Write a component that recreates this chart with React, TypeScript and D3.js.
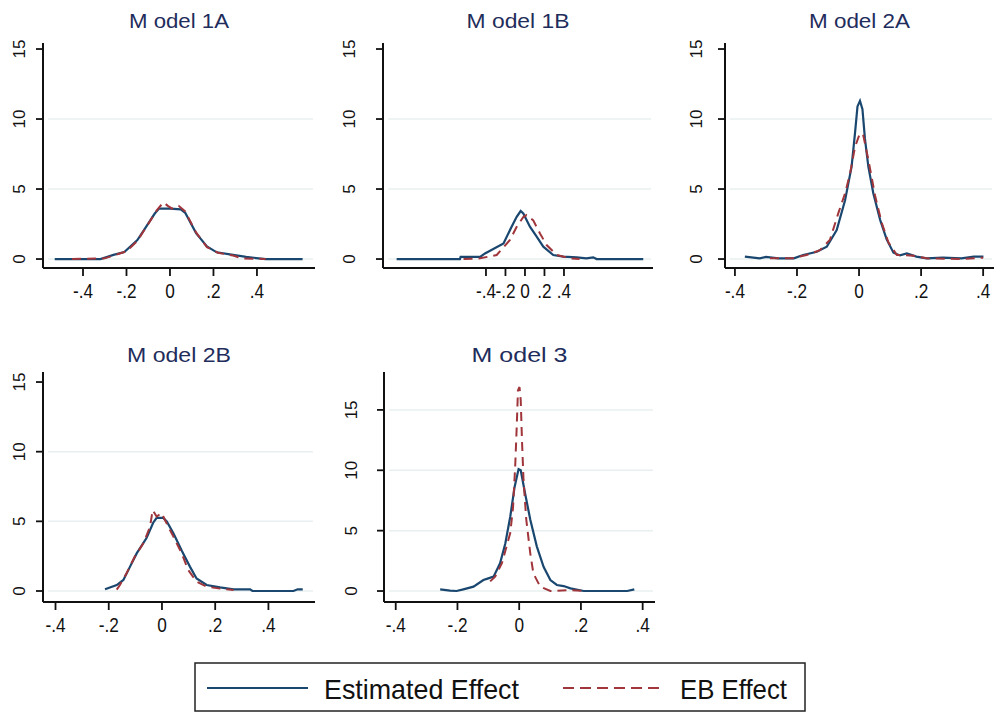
import React from 'react';
import * as d3 from 'd3';

// panel titles and tick labels as they appear in the figure
const titles = ['M odel 1A', 'M odel 1B', 'M odel 2A', 'M odel 2B', 'M odel 3'];
const xTickValues = [-0.4, -0.2, 0, 0.2, 0.4];
const xTickLabels = ['-.4', '-.2', '0', '.2', '.4'];
const yTickValues = [0, 5, 10, 15];
const legendLabels = ['Estimated Effect', 'EB Effect'];

// density curves: [effect, density]
const est1A = [[-0.53, 0], [-0.32, 0], [-0.26, 0.3], [-0.21, 0.5], [-0.15, 1.35], [-0.11, 2.3], [-0.07, 3.25], [-0.05, 3.6], [0.0, 3.6], [0.05, 3.55], [0.07, 3.3], [0.12, 1.85], [0.17, 0.9], [0.215, 0.48], [0.29, 0.3], [0.35, 0.15], [0.44, 0], [0.61, 0]];
const eb1A = [[-0.45, 0], [-0.3, 0.05], [-0.25, 0.3], [-0.2, 0.55], [-0.15, 1.3], [-0.1, 2.5], [-0.06, 3.5], [-0.03, 4.05], [-0.01, 3.8], [0.01, 3.6], [0.04, 3.8], [0.07, 3.4], [0.12, 1.9], [0.17, 0.85], [0.22, 0.45], [0.29, 0.25], [0.33, 0.05], [0.44, 0]];

const est1B = [[-1.316, 0], [-0.667, 0], [-0.66, 0.15], [-0.46, 0.15], [-0.41, 0.4], [-0.22, 1.12], [-0.137, 2.31], [-0.085, 3.02], [-0.044, 3.43], [-0.017, 3.26], [0.051, 2.31], [0.12, 1.6], [0.188, 0.88], [0.29, 0.29], [0.393, 0.17], [0.53, 0.12], [0.63, 0.05], [0.7, 0.12], [0.735, 0], [1.213, 0]];
const eb1B = [[-0.63, 0], [-0.46, 0.05], [-0.29, 0.29], [-0.154, 1.36], [-0.085, 2.3], [-0.017, 3.0], [0.017, 3.14], [0.085, 2.76], [0.154, 1.83], [0.222, 1.0], [0.325, 0.29], [0.46, 0.05], [0.56, 0]];

const est2A = [[-0.368, 0.17], [-0.32, 0.05], [-0.3, 0.15], [-0.26, 0.05], [-0.21, 0.05], [-0.18, 0.29], [-0.136, 0.52], [-0.104, 0.88], [-0.072, 2.07], [-0.045, 4.2], [-0.024, 6.6], [-0.013, 9.0], [-0.005, 10.9], [0.003, 11.3], [0.011, 10.7], [0.019, 8.6], [0.03, 6.6], [0.046, 4.7], [0.068, 2.8], [0.089, 1.4], [0.111, 0.45], [0.132, 0.26], [0.154, 0.4], [0.185, 0.17], [0.218, 0.05], [0.27, 0.1], [0.33, 0.05], [0.37, 0.17], [0.401, 0.17]];
const eb2A = [[-0.287, 0.05], [-0.215, 0.05], [-0.169, 0.29], [-0.126, 0.64], [-0.094, 1.36], [-0.067, 3.26], [-0.045, 4.7], [-0.029, 6.1], [-0.013, 8.0], [0.003, 9.0], [0.014, 8.8], [0.03, 7.1], [0.052, 4.5], [0.073, 2.6], [0.095, 1.17], [0.122, 0.29], [0.175, 0.24], [0.218, 0.05], [0.33, 0], [0.4, 0.1]];

const est2B = [[-0.214, 0.12], [-0.17, 0.43], [-0.145, 0.79], [-0.12, 1.75], [-0.095, 2.7], [-0.058, 3.8], [-0.033, 4.9], [-0.02, 5.25], [0.005, 5.25], [0.018, 5.0], [0.043, 4.15], [0.074, 2.9], [0.105, 1.75], [0.13, 0.9], [0.168, 0.43], [0.218, 0.26], [0.269, 0.12], [0.331, 0.12], [0.34, 0], [0.494, 0], [0.51, 0.12], [0.529, 0.12]];
const eb2B = [[-0.17, 0.1], [-0.158, 0.43], [-0.133, 1.27], [-0.102, 2.47], [-0.07, 3.42], [-0.045, 4.6], [-0.035, 5.8], [-0.02, 5.35], [-0.001, 5.6], [0.011, 5.1], [0.043, 3.9], [0.074, 2.7], [0.099, 1.5], [0.13, 0.67], [0.168, 0.31], [0.218, 0.17], [0.269, 0.07]];

const est3 = [[-0.256, 0.14], [-0.224, 0.03], [-0.203, 0], [-0.181, 0.14], [-0.148, 0.36], [-0.116, 0.91], [-0.1, 1.05], [-0.083, 1.19], [-0.062, 2.3], [-0.045, 3.94], [-0.029, 6.15], [-0.015, 8.6], [-0.002, 10.1], [0.005, 10.0], [0.019, 8.1], [0.036, 5.9], [0.057, 3.7], [0.079, 2.0], [0.101, 0.91], [0.122, 0.5], [0.144, 0.41], [0.166, 0.22], [0.209, 0], [0.35, 0], [0.373, 0.14]];
const eb3 = [[-0.094, 0.8], [-0.078, 1.19], [-0.056, 2.3], [-0.029, 4.8], [-0.02, 6.9], [-0.013, 10.3], [-0.008, 13.6], [-0.004, 16.6], [0.001, 16.9], [0.005, 15.8], [0.009, 12.5], [0.014, 9.2], [0.023, 5.9], [0.036, 3.1], [0.046, 1.46], [0.068, 0.36], [0.101, 0], [0.166, 0.08], [0.209, 0]];

const BLUE = '#1a476f';
const RED = '#a0353b';
const FONT = '"Liberation Sans", Arial, sans-serif';

// layout of each small plot (pixel boxes + axis domains)
const panels = [
  { est: est1A, eb: eb1A, px: [43, 315], py: [268, 43], xd: [-0.584, 0.667], yd: [-0.64, 15.43], lab: 18, grid: [0, 5, 10], tw: 100 },
  { est: est1B, eb: eb1B, px: [383, 653], py: [268, 43], xd: [-1.456, 1.313], yd: [-0.64, 15.43], lab: 28, grid: [0, 5, 10], tw: 103 },
  { est: est2A, eb: eb2A, px: [725, 994], py: [268, 43], xd: [-0.432, 0.435], yd: [-0.64, 15.43], lab: 23, grid: [0, 5, 10], tw: 101 },
  { est: est2B, eb: eb2B, px: [43, 315], py: [602, 372], xd: [-0.447, 0.575], yd: [-0.79, 15.72], lab: 18, grid: [0, 5, 10], tw: 104 },
  { est: est3, eb: eb3, px: [384, 655], py: [602, 372], xd: [-0.438, 0.44], yd: [-0.91, 18.14], lab: 27, grid: [0, 5, 10, 15], tw: 96 },
];

function Panel({ p, title }) {
  const x = d3.scaleLinear().domain(p.xd).range(p.px);
  const y = d3.scaleLinear().domain(p.yd).range(p.py);
  const line = d3.line().x(d => x(d[0])).y(d => y(d[1]));
  const [left, right] = p.px;
  const [bottom, top] = p.py;
  const yTicks = yTickValues.filter(v => v <= p.yd[1]);
  return (
    <g>
      <text x={(left + right) / 2} y={bottom - 240} textAnchor="middle" fontSize={21} fill="#1f2d5c"
        textLength={p.tw} lengthAdjust="spacingAndGlyphs" fontFamily={FONT}>{title}</text>
      {p.grid.map(v => (
        <line key={'g' + v} x1={left + 5} x2={right - 2} y1={y(v)} y2={y(v)} stroke="#e8eff1" strokeWidth={1.5} />
      ))}
      <path d={line(p.est)} fill="none" stroke={BLUE} strokeWidth={2.2} />
      <path d={line(p.eb)} fill="none" stroke={RED} strokeWidth={2} strokeDasharray="9,6" />
      <line x1={left} x2={left} y1={top} y2={bottom} stroke="#111" strokeWidth={2} />
      <line x1={left} x2={right} y1={bottom} y2={bottom} stroke="#111" strokeWidth={2} />
      {yTicks.map(v => (
        <g key={'y' + v}>
          <line x1={left - 7} x2={left} y1={y(v)} y2={y(v)} stroke="#111" strokeWidth={1.8} />
          <text transform={`translate(${left - p.lab},${y(v)}) rotate(-90)`} textAnchor="middle"
            fontSize={17} fontFamily={FONT} fill="#111">{v}</text>
        </g>
      ))}
      {xTickValues.map((v, i) => (
        <g key={'x' + v}>
          <line x1={x(v)} x2={x(v)} y1={bottom} y2={bottom + 8} stroke="#111" strokeWidth={1.8} />
          <g transform={`translate(${x(v)},${bottom + 30}) scale(0.82,1)`}>
            <text textAnchor="middle" fontSize={21} fontFamily={FONT} fill="#111">{xTickLabels[i]}</text>
          </g>
        </g>
      ))}
    </g>
  );
}

export default function App() {
  return (
    <svg width={994} height={712} style={{ position: 'absolute', left: 0, top: 0, background: '#fff' }}>
      <rect x={0} y={0} width={994} height={712} fill="#fff" />
      {panels.map((p, i) => <Panel key={i} p={p} title={titles[i]} />)}
      <g>
        <rect x={195} y={663} width={610} height={48} fill="#fff" stroke="#222" strokeWidth={1.5} />
        <line x1={207} x2={308} y1={688} y2={688} stroke={BLUE} strokeWidth={2} />
        <text x={324} y={699} fontSize={28} fontFamily={FONT} fill="#111" textLength={195} lengthAdjust="spacingAndGlyphs">{legendLabels[0]}</text>
        <line x1={563} x2={665} y1={688} y2={688} stroke={RED} strokeWidth={2} strokeDasharray="11,6" />
        <text x={680} y={699} fontSize={28} fontFamily={FONT} fill="#111" textLength={107} lengthAdjust="spacingAndGlyphs">{legendLabels[1]}</text>
      </g>
    </svg>
  );
}
